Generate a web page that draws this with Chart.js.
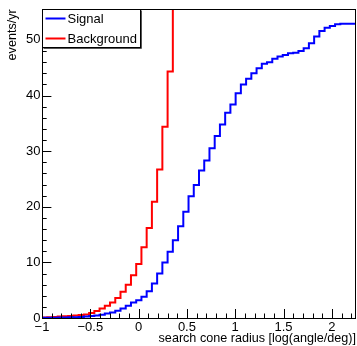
<!DOCTYPE html>
<html>
<head>
<meta charset="utf-8">
<script src="https://cdn.jsdelivr.net/npm/chart.js@4/dist/chart.umd.min.js"></script>
<style>
html,body{margin:0;padding:0;background:#fff;}
#wrap{width:357px;height:346px;position:relative;}
</style>
</head>
<body>
<div id="wrap"><canvas id="c" width="357" height="346"></canvas></div>
<script>
// Histogram binning
const xMin = -1;
const xMax = 2.25;
const nBins = 60;
const yMax = 55.5;

// Series values (events/yr per bin)
const signalValues = [
  0.05, 0.05, 0.05, 0.08, 0.1, 0.12, 0.15, 0.2, 0.25, 0.35,
  0.45, 0.6, 0.8, 1.0, 1.3, 1.7, 2.2, 2.8, 3.2, 3.8,
  4.8, 6.2, 8.0, 10.0, 11.9, 14.0, 16.5, 19.1, 21.9, 23.9,
  26.5, 28.3, 30.5, 32.7, 34.8, 36.9, 38.4, 40.4, 42.0, 43.0,
  44.0, 44.9, 45.7, 46.0, 46.6, 47.0, 47.3, 47.6, 47.7, 48.0,
  48.5, 49.4, 50.6, 51.6, 52.2, 52.5, 52.8, 52.9, 52.9, 52.9
];
const backgroundValues = [
  0.1, 0.15, 0.2, 0.25, 0.3, 0.35, 0.45, 0.55, 0.65, 0.9,
  1.25, 1.7, 2.2, 2.8, 3.6, 4.7, 6.0, 7.7, 9.7, 12.7,
  16.2, 20.9, 26.7, 34.4, 44.3, 60
];

// Tick labels
const xTickValues = [-1, -0.5, 0, 0.5, 1, 1.5, 2];
const xTickLabels = ["\u22121", "\u22120.5", "0", "0.5", "1", "1.5", "2"];
const yTickValues = [0, 10, 20, 30, 40, 50];
const yTickLabels = ["0", "10", "20", "30", "40", "50"];

const seriesNames = ["Signal", "Background"];
const seriesColors = ["#0000ff", "#ff0000"];

const binWidth = (xMax - xMin) / nBins;
function histPoints(vals) {
  // point at each bin's left edge carries that bin's value (stepped 'before' holds it to the next edge)
  const pts = [{x: xMin, y: 0}];
  vals.forEach((v, i) => pts.push({x: xMin + i * binWidth, y: v}));
  pts.push({x: xMin + vals.length * binWidth, y: vals[vals.length - 1]});
  return pts;
}

const FONT = '"Liberation Sans", Arial, Helvetica, sans-serif';

const framePlugin = {
  id: 'rootFrame',
  afterDatasetsDraw(chart) {
    const ctx = chart.ctx;
    const a = chart.chartArea;
    const xs = chart.scales.x, ys = chart.scales.y;
    ctx.save();
    ctx.strokeStyle = '#000';
    ctx.lineWidth = 1;
    // frame
    ctx.strokeRect(Math.round(a.left) + 0.5, Math.round(a.top) + 0.5,
      Math.round(a.right) - Math.round(a.left) - 1, Math.round(a.bottom) - Math.round(a.top));
    // x ticks (inward)
    ctx.beginPath();
    for (let i = -10; i <= 22; i++) {
      const v = i / 10;
      if (v < xMin || v > xMax) continue;
      const px = Math.round(xs.getPixelForValue(v)) + 0.5;
      const major = (i % 5 === 0);
      const len = major ? 9 : 4.5;
      ctx.moveTo(px, a.bottom);
      ctx.lineTo(px, a.bottom - len);
    }
    // y ticks (inward)
    for (let i = 0; i <= 27; i++) {
      const v = i * 2;
      if (v > yMax) continue;
      const py = Math.round(ys.getPixelForValue(v)) + 0.5;
      const major = (i % 5 === 0);
      const len = major ? 9.4 : 4.7;
      ctx.moveTo(a.left, py);
      ctx.lineTo(a.left + len, py);
    }
    ctx.stroke();

    // legend
    const lx = Math.round(a.left) + 0.5, ly = Math.round(a.top) + 0.5;
    const lw = 98, lh = 38;
    ctx.fillStyle = '#fff';
    ctx.fillRect(lx, ly, lw, lh);
    ctx.strokeStyle = '#000';
    ctx.strokeRect(lx, ly, lw, lh);
    ctx.strokeStyle = '#555';
    ctx.beginPath();
    ctx.moveTo(lx + lw + 1, ly + 1);
    ctx.lineTo(lx + lw + 1, ly + lh + 1);
    ctx.lineTo(lx + 1, ly + lh + 1);
    ctx.stroke();
    ctx.font = '13px ' + FONT;
    ctx.textBaseline = 'middle';
    ctx.textAlign = 'left';
    chart.data.datasets.forEach((ds, i) => {
      const cy = ly + 9 + i * 20;
      ctx.strokeStyle = ds.borderColor;
      ctx.lineWidth = 2;
      ctx.beginPath();
      ctx.moveTo(lx + 3, cy);
      ctx.lineTo(lx + 23, cy);
      ctx.stroke();
      ctx.fillStyle = '#000';
      ctx.fillText(ds.label, lx + 25, cy + 0.5);
    });
    ctx.restore();
  }
};

new Chart(document.getElementById('c'), {
  type: 'line',
  data: {
    datasets: [
      {label: seriesNames[0], data: histPoints(signalValues), borderColor: seriesColors[0],
       borderWidth: 2, stepped: 'before', pointRadius: 0, fill: false},
      {label: seriesNames[1], data: histPoints(backgroundValues), borderColor: seriesColors[1],
       borderWidth: 2, stepped: 'before', pointRadius: 0, fill: false}
    ]
  },
  options: {
    responsive: false,
    animation: false,
    devicePixelRatio: 1,
    layout: {padding: {top: 8, right: 1, left: 0, bottom: 0}},
    plugins: {legend: {display: false}, tooltip: {enabled: false}},
    scales: {
      x: {
        type: 'linear', min: xMin, max: xMax,
        grid: {display: false, drawTicks: false},
        border: {display: false},
        afterBuildTicks(s) { s.ticks = xTickValues.map(v => ({value: v})); },
        afterFit(s) { s.height = 28; },
        ticks: {
          padding: 2, color: '#000', maxRotation: 0, autoSkip: false,
          font: {family: FONT, size: 13},
          callback: (v) => { const i = xTickValues.indexOf(v); return i >= 0 ? xTickLabels[i] : ''; }
        },
        title: {display: true, text: 'search cone radius [log(angle/deg)]', align: 'end',
          color: '#000', font: {family: FONT, size: 12.6}, padding: {top: 0, bottom: 0}}
      },
      y: {
        type: 'linear', min: 0, max: yMax,
        grid: {display: false, drawTicks: false},
        border: {display: false},
        afterBuildTicks(s) { s.ticks = yTickValues.map(v => ({value: v})); },
        afterFit(s) { s.width = 42; },
        ticks: {
          padding: 1.5, color: '#000', autoSkip: false,
          font: {family: FONT, size: 13},
          callback: (v) => { const i = yTickValues.indexOf(v); return i >= 0 ? yTickLabels[i] : ''; }
        },
        title: {display: true, text: 'events/yr', align: 'end',
          color: '#000', font: {family: FONT, size: 12.6}, padding: {top: 5, bottom: 0}}
      }
    }
  },
  plugins: [framePlugin]
});
</script>
</body>
</html>
